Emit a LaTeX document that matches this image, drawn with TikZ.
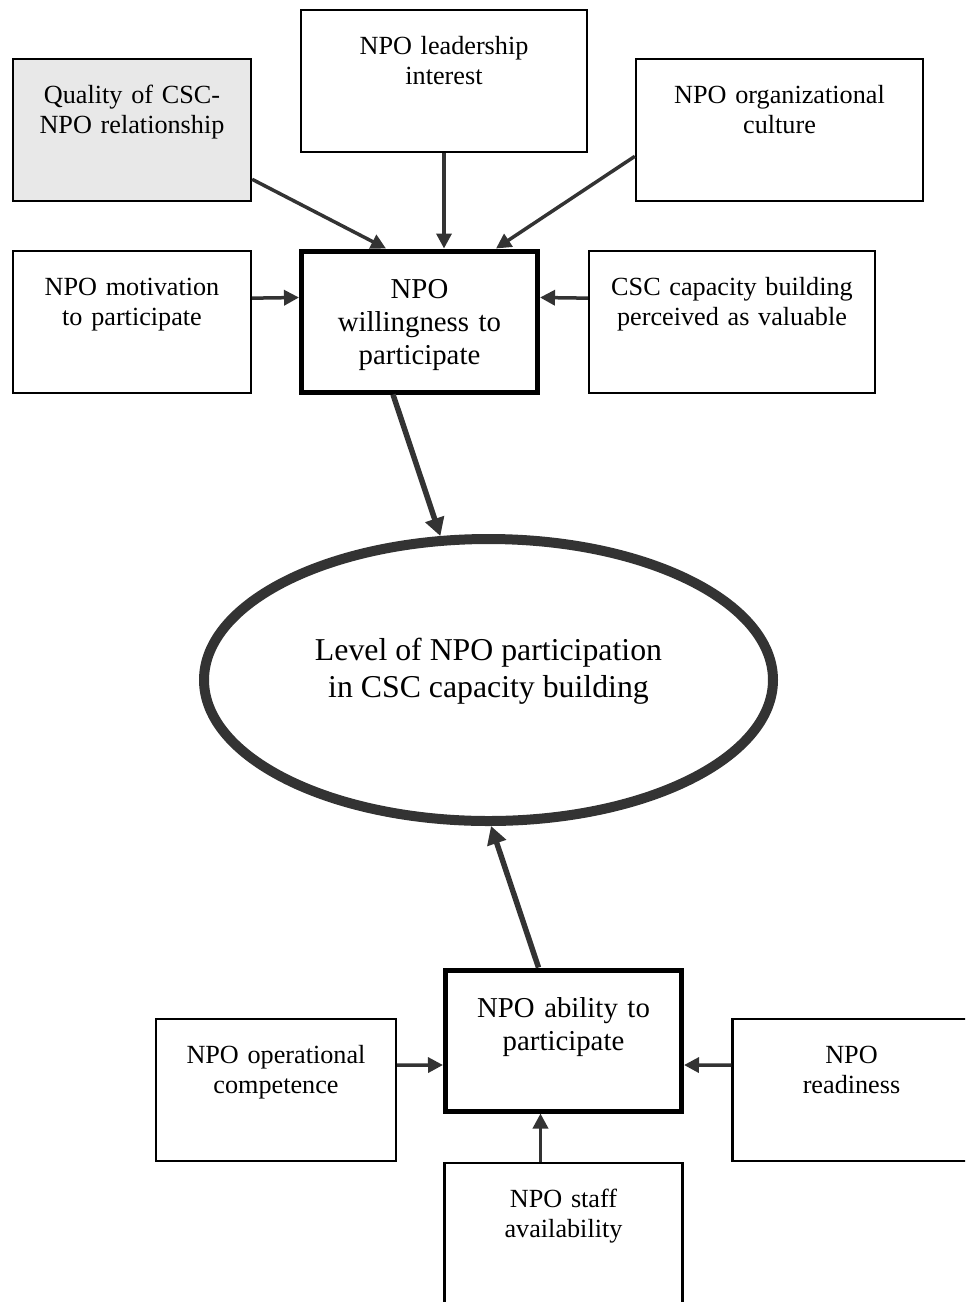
\documentclass[tikz,border=0pt]{standalone}
\usepackage{fontspec}
\setmainfont{Liberation Serif}
\usetikzlibrary{arrows.meta,shapes.geometric}
\definecolor{qualgray}{gray}{0.91}
\definecolor{linkgray}{gray}{0.2}
\begin{document}
\begin{tikzpicture}[
    x=0.5pt,
    y=-0.5pt,
    factor/.style={draw, line width=1.15pt, inner sep=0pt, anchor=north, align=center, text width=#1, text height=22pt, text depth=49pt, font=\fontsize{13.1}{15.2}\selectfont},
    factor/.default=119pt,
    core/.style={draw, line width=2.5pt, inner sep=0pt, anchor=north, align=center, text width=118pt, text height=23.5pt, text depth=47pt, font=\fontsize{14.4}{16.7}\selectfont},
    outcome/.style={draw=linkgray, line width=5pt, ellipse, inner sep=0pt, align=center, minimum width=284.5pt, minimum height=141pt, text height=29.3pt, text depth=12.3pt, font=\fontsize{15.9}{18.3}\selectfont},
    link/.style={draw=linkgray, line width=1.75pt, -{Triangle[length=7.5pt,width=7.5pt]}},
    mainlink/.style={draw=linkgray, line width=2.75pt, -{Triangle[length=9pt,width=9.5pt]}}
]
\path[use as bounding box, clip] (0,0) rectangle (965,1302);
\node[factor, fill=qualgray] (qual) at (132,58) {Quality of CSC-\\NPO relationship};
\node[factor=143pt] (lead) at (444,9) {NPO leadership\\interest};
\node[factor=143.5pt] (cult) at (779.5,58) {NPO organizational\\culture};
\node[factor] (motiv) at (132,250) {NPO motivation\\to participate};
\node[core] (will) at (419.5,248.5) {NPO\\willingness to\\participate};
\node[factor=143pt] (csccb) at (732,250) {CSC capacity building\\perceived as valuable};
\node[outcome] (lvl) at (488.5,680) {Level of NPO participation\\in CSC capacity building};
\node[core] (abil) at (563.5,967.5) {NPO ability to\\participate};
\node[factor=120pt] (opcomp) at (276,1018) {NPO operational\\competence};
\node[factor] (ready) at (851.5,1018) {NPO\\readiness};
\node[factor] (staff) at (563.5,1162) {NPO staff\\availability};
\draw[link] ([yshift=11.5pt]qual.south east) -- ([xshift=43.5pt]will.north west);
\draw[link] (lead.south) -- (lead.south |- will.north);
\draw[link] ([yshift=23pt]cult.south west) -- ([xshift=-22pt]will.north east);
\draw[link] ([yshift=12pt]motiv.east) -- ([yshift=12pt]will.west);
\draw[link] ([yshift=12pt]csccb.west) -- ([yshift=12pt]will.east);
\draw[mainlink] ([xshift=47pt]will.south west) -- (lvl);
\draw[mainlink] ([xshift=47.75pt]abil.north west) -- (lvl.-89);
\draw[link] ([yshift=12.5pt]opcomp.east) -- ([yshift=-12.25pt]abil.west);
\draw[link] ([yshift=12.5pt]ready.west) -- ([yshift=-12.25pt]abil.east);
\draw[link] ([xshift=-11.5pt]staff.north) -- ([xshift=-11.5pt]abil.south);
\end{tikzpicture}
\end{document}
